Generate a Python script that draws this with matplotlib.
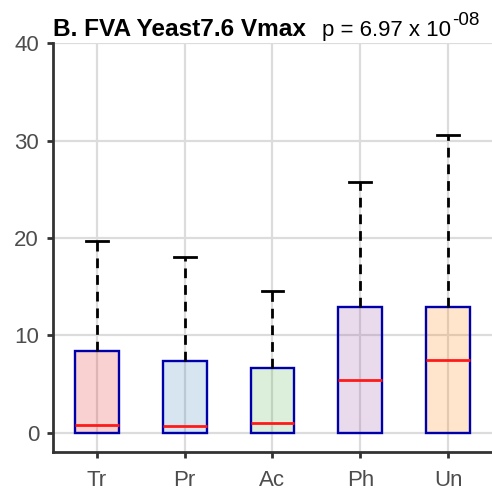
import matplotlib
matplotlib.use("Agg")
import matplotlib.pyplot as plt

categories = ["Tr", "Pr", "Ac", "Ph", "Un"]
q1 = [0, 0, 0, 0, 0]
q3 = [8.4, 7.3, 6.6, 12.85, 12.85]
medians = [0.75, 0.65, 0.95, 5.35, 7.5]
whislo = [0, 0, 0, 0, 0]
whishi = [19.7, 18.0, 14.5, 25.7, 30.6]
fills = ["#E41A1C", "#377EB8", "#4DAF4A", "#984EA3", "#FF7F00"]

plt.rcParams['font.family'] = ['Liberation Sans', 'DejaVu Sans']
fig = plt.figure(figsize=(4.92, 4.90), dpi=100)
ax = fig.add_axes([0.1077, 0.0776, 0.8923, 0.834])

stats = []
for i, c in enumerate(categories):
    stats.append(dict(label=c, q1=q1[i], q3=q3[i], med=medians[i],
                      whislo=whislo[i], whishi=whishi[i], fliers=[]))
pos = list(range(1, len(categories) + 1))
bp = ax.bxp(stats, positions=pos, widths=0.5, patch_artist=True,
            showfliers=False,
            boxprops=dict(edgecolor="#0000aa", linewidth=1.7),
            medianprops=dict(color="#ff1a1a", linewidth=2.0),
            whiskerprops=dict(color="black", linewidth=2.0, linestyle=(0, (3.5, 2.5))),
            capprops=dict(color="black", linewidth=2.0),
            capwidths=0.25)
for patch, f in zip(bp['boxes'], fills):
    patch.set_facecolor(matplotlib.colors.to_rgba(f, 0.2))
    patch.set_zorder(2)
for cap in bp['caps'][0::2]:
    cap.set_visible(False)
for w in bp['whiskers'][0::2]:
    w.set_visible(False)

ax.set_xlim(0.5, 5.5)
ax.set_ylim(-2, 40)
ax.set_yticks([0, 10, 20, 30, 40])
ax.set_xticks(pos)
ax.set_xticklabels(categories)
ax.grid(True, color="#dcdcdc", linewidth=1.6, zorder=0)
ax.set_axisbelow(True)
for s in ["top", "right"]:
    ax.spines[s].set_visible(False)
for s in ["left", "bottom"]:
    ax.spines[s].set_color("#333333")
    ax.spines[s].set_linewidth(2)
ax.tick_params(axis='both', labelsize=16, colors="#333333", length=4, width=2,
               labelcolor="#4d4d4d")
ax.tick_params(axis='x', pad=9)
ax.tick_params(axis='y', pad=6)

fig.text(0.108, 0.9265, "B. FVA Yeast7.6 Vmax", fontsize=17.6, fontweight="bold",
         ha="left", va="baseline")
t = fig.text(0.655, 0.9265, "p = 6.97 x 10", fontsize=16,
             ha="left", va="baseline")
ax.annotate("-08", xy=(1, 1), xycoords=t, xytext=(0.3, 6),
            textcoords="offset points", fontsize=13.5, ha="left", va="top",
            annotation_clip=False)

fig.savefig("out.png", dpi=100)
